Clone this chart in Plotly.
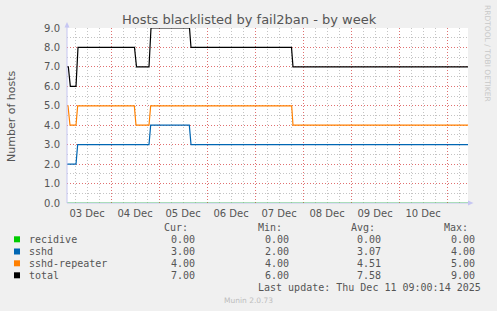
import plotly.graph_objects as go

# ---------------- data ----------------
total_t = ["2025-12-03 02:00", "2025-12-03 02:40", "2025-12-03 03:40", "2025-12-03 06:30",
           "2025-12-03 07:30", "2025-12-04 11:45", "2025-12-04 12:45", "2025-12-04 19:00",
           "2025-12-04 20:00", "2025-12-05 15:15", "2025-12-05 16:00", "2025-12-07 18:15",
           "2025-12-07 19:00", "2025-12-11 10:30"]
total_v = [7, 7, 6, 6, 8, 8, 7, 7, 9, 9, 8, 8, 7, 7]

repeater_t = ["2025-12-03 02:00", "2025-12-03 02:30", "2025-12-03 03:30", "2025-12-03 06:30",
              "2025-12-03 07:20", "2025-12-04 11:40", "2025-12-04 12:30", "2025-12-04 19:00",
              "2025-12-04 19:50", "2025-12-07 18:20", "2025-12-07 19:00", "2025-12-11 10:30"]
repeater_v = [5, 5, 4, 4, 5, 5, 4, 4, 5, 5, 4, 4]

sshd_t = ["2025-12-03 02:00", "2025-12-03 06:30", "2025-12-03 07:20", "2025-12-04 19:00",
          "2025-12-04 19:50", "2025-12-05 15:10", "2025-12-05 16:00", "2025-12-11 10:30"]
sshd_v = [2, 2, 3, 3, 4, 4, 3, 3]

recidive_t = ["2025-12-03 02:00", "2025-12-11 10:30"]
recidive_v = [0, 0]

series_names = ["recidive", "sshd", "sshd-repeater", "total"]
series_colors = ["#00CC00", "#0066B3", "#FF8000", "#000000"]
stat_cur = ["0.00", "3.00", "4.00", "7.00"]
stat_min = ["0.00", "2.00", "4.00", "6.00"]
stat_avg = ["0.00", "3.07", "4.51", "7.58"]
stat_max = ["0.00", "4.00", "5.00", "9.00"]

x_start, x_end = "2025-12-03 02:00", "2025-12-11 10:30"
day_tick_format = "%d %b"

title_text = "Hosts blacklisted by fail2ban - by week"
y_title = "Number of hosts"
last_update = "Last update: Thu Dec 11 09:00:14 2025"
footer = "Munin 2.0.73"
watermark = "RRDTOOL / TOBI OETIKER"

# ---------------- layout geometry ----------------
W, H = 497, 311
L, R, T, B = 67, 468, 28, 203


def px(x):
    return (x - L) / (R - L)


def py(y):
    return (B - y) / (B - T)


TXT = "#555555"
MAJ = "#E07070"
MIN = "#C4C4C4"
AXC = "#C6C6F2"
DASH = "1px,2px"

fig = go.Figure()

fig.add_trace(go.Scatter(x=recidive_t, y=recidive_v, mode="lines",
                         line=dict(color=series_colors[0], width=1), opacity=0.5,
                         hoverinfo="skip", showlegend=False))
fig.add_trace(go.Scatter(x=sshd_t, y=sshd_v, mode="lines",
                         line=dict(color=series_colors[1], width=1.2), showlegend=False))
fig.add_trace(go.Scatter(x=repeater_t, y=repeater_v, mode="lines",
                         line=dict(color=series_colors[2], width=1.2), showlegend=False))
fig.add_trace(go.Scatter(x=total_t, y=total_v, mode="lines",
                         line=dict(color=series_colors[3], width=1.2), showlegend=False))

font_mono = "DejaVu Sans Mono"
font_sans = "DejaVu Sans"

annotations = []
shapes = []

annotations.append(dict(x=px(249), y=py(19.5), xref="paper", yref="paper", text=title_text,
                        showarrow=False, xanchor="center", yanchor="middle",
                        font=dict(family=font_sans, size=13, color=TXT)))
annotations.append(dict(x=px(11), y=py(116), xref="paper", yref="paper", text=y_title,
                        showarrow=False, xanchor="center", yanchor="middle", textangle=-90,
                        font=dict(family=font_sans, size=11, color=TXT)))
annotations.append(dict(x=px(488), y=py(53), xref="paper", yref="paper", text=watermark,
                        showarrow=False, xanchor="center", yanchor="middle", textangle=90,
                        font=dict(family=font_sans, size=7.5, color="#C8C8C8")))

hdr_y = 227.3
row_y = [239.3, 251.5, 263.3, 275.3]
col_right = [196.7, 290.7, 383.0, 476.7]
headers = ["Cur:", "Min:", "Avg:", "Max:"]
for h, xr in zip(headers, col_right):
    annotations.append(dict(x=px(xr - 6.5), y=py(hdr_y), xref="paper", yref="paper", text=h,
                            showarrow=False, xanchor="right", yanchor="middle",
                            font=dict(family=font_mono, size=10, color=TXT)))
stats = [stat_cur, stat_min, stat_avg, stat_max]
for i, name in enumerate(series_names):
    yc = row_y[i]
    shapes.append(dict(type="rect", xref="paper", yref="paper",
                       x0=px(14), x1=px(20), y0=py(yc - 3), y1=py(yc + 3),
                       fillcolor=series_colors[i], line=dict(width=0)))
    annotations.append(dict(x=px(26.5), y=py(yc), xref="paper", yref="paper", text=name,
                            showarrow=False, xanchor="left", yanchor="middle",
                            font=dict(family=font_mono, size=10, color=TXT)))
    for s, xr in zip(stats, col_right):
        annotations.append(dict(x=px(xr), y=py(yc), xref="paper", yref="paper", text=s[i],
                                showarrow=False, xanchor="right", yanchor="middle",
                                font=dict(family=font_mono, size=10, color=TXT)))
annotations.append(dict(x=px(483), y=py(287.7), xref="paper", yref="paper", text=last_update,
                        showarrow=False, xanchor="right", yanchor="middle",
                        font=dict(family=font_mono, size=10, color=TXT)))
annotations.append(dict(x=px(248), y=py(300), xref="paper", yref="paper", text=footer,
                        showarrow=False, xanchor="center", yanchor="middle",
                        font=dict(family=font_sans, size=7.5, color="#BDBDBD")))

shapes.append(dict(type="line", xref="paper", yref="paper", x0=px(67), x1=px(67),
                   y0=py(203), y1=py(24), line=dict(color=AXC, width=1), layer="above"))
shapes.append(dict(type="path", xref="paper", yref="paper",
                   path=f"M {px(64.5)} {py(27.5)} L {px(69.5)} {py(27.5)} L {px(67)} {py(22)} Z",
                   fillcolor=AXC, line=dict(width=0)))
shapes.append(dict(type="line", xref="paper", yref="paper", x0=px(67), x1=px(470),
                   y0=py(203), y1=py(203), line=dict(color=AXC, width=1), layer="below"))
shapes.append(dict(type="path", xref="paper", yref="paper",
                   path=f"M {px(468)} {py(200.5)} L {px(468)} {py(205.5)} L {px(473.5)} {py(203)} Z",
                   fillcolor=AXC, line=dict(width=0)))

fig.update_layout(
    width=W, height=H,
    margin=dict(l=L, r=W - R, t=T, b=H - B, pad=0),
    paper_bgcolor="#F0F0F0", plot_bgcolor="#FFFFFF",
    showlegend=False,
    annotations=annotations, shapes=shapes,
    xaxis=dict(type="date", range=[x_start, x_end], tickmode="linear",
               tick0="2025-12-03 00:00", dtick=86400000, tickformat=day_tick_format,
               ticklabelmode="period",
               showgrid=True, gridcolor=MAJ, griddash=DASH, gridwidth=1,
               zeroline=False, showline=False, ticks="", ticklabelstandoff=3, automargin=False,
               minor=dict(tickmode="linear", tick0="2025-12-03 00:00", dtick=21600000,
                          showgrid=True, gridcolor=MIN, griddash=DASH, gridwidth=1, ticks=""),
               tickfont=dict(family=font_sans, size=10, color=TXT), fixedrange=True),
    yaxis=dict(range=[0, 9], tickmode="linear", tick0=0, dtick=1, tickformat=".1f",
               showgrid=True, gridcolor=MAJ, griddash=DASH, gridwidth=1,
               minor=dict(dtick=0.5, showgrid=True, gridcolor=MIN, griddash=DASH, gridwidth=1),
               zeroline=False, showline=False, ticks="", ticklabelstandoff=6, automargin=False,
               tickfont=dict(family=font_sans, size=10, color=TXT), fixedrange=True),
)

fig.write_html("out.html")
